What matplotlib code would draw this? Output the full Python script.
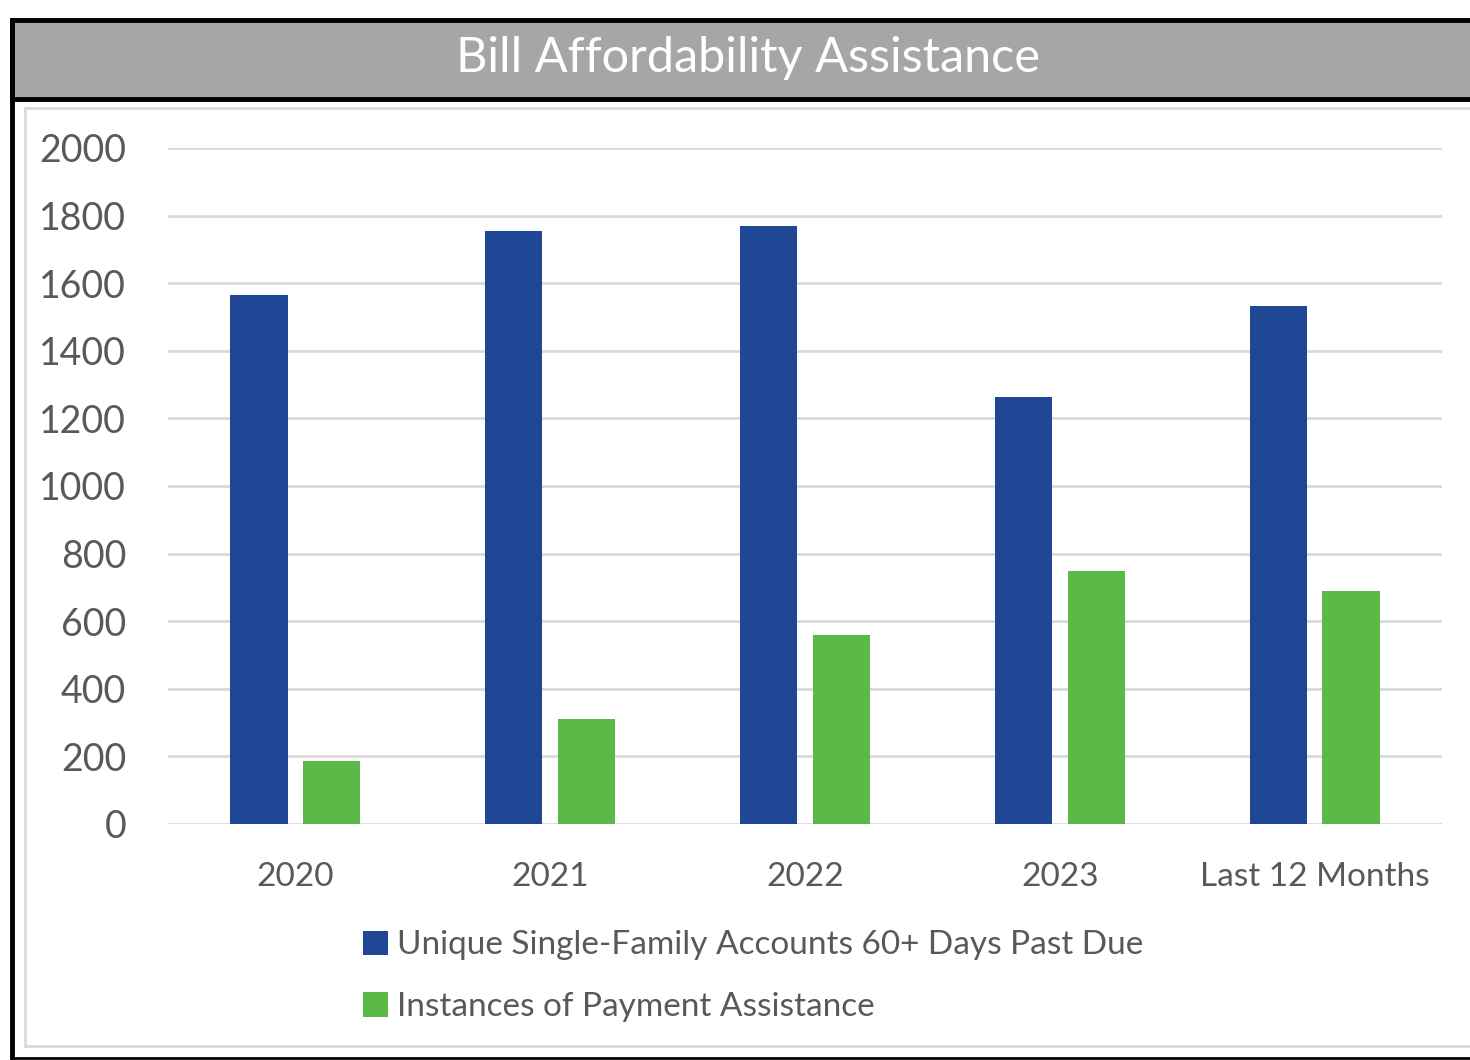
import numpy as np
import matplotlib
matplotlib.use("Agg")
import matplotlib.pyplot as plt
from matplotlib.patches import Rectangle

categories = ["2020", "2021", "2022", "2023", "Last 12 Months"]
past_due = [1565, 1755, 1770, 1262, 1533]
assistance = [187, 311, 560, 748, 688]
series_names = ["Unique Single-Family Accounts 60+ Days Past Due",
                "Instances of Payment Assistance"]
yticks = [0, 200, 400, 600, 800, 1000, 1200, 1400, 1600, 1800, 2000]

BLUE = "#1F4796"
GREEN = "#5BB947"
TEXT = "#595959"

plt.rcParams['font.family'] = ['Lato', 'DejaVu Sans']

W, H = 1470, 1060
fig = plt.figure(figsize=(W / 100, H / 100), dpi=100)

def fx(px):
    return px / W

def fy(py):
    return 1 - py / H

# frame: black outline, gray header, light inner border (open on the right)
fig.patches.append(Rectangle((fx(25), fy(1046)), fx(1490 - 25), (1046 - 108) / H,
                             transform=fig.transFigure, facecolor="white",
                             edgecolor="#d9d9d9", linewidth=2))
fig.patches.append(Rectangle((fx(12), fy(99)), fx(1490 - 12), (99 - 20) / H,
                             transform=fig.transFigure, facecolor="#a6a6a6",
                             edgecolor="black", linewidth=3.5))
fig.add_artist(plt.Line2D([fx(12), fx(12)], [fy(20), fy(1058)], color="black",
                          linewidth=3.5, transform=fig.transFigure))
fig.add_artist(plt.Line2D([fx(12), fx(1470)], [fy(1058), fy(1058)], color="black",
                          linewidth=2, transform=fig.transFigure))

fig.text(fx(748), fy(58), "Bill Affordability Assistance", color="white",
         fontsize=35, ha="center", va="center")

ax = fig.add_axes([fx(168), fy(824), fx(1442 - 168), (824 - 148) / H])
ax.set_zorder(5)
x = np.arange(len(categories))
bw = 0.224
off = 0.143
ax.bar(x - off, past_due, bw, color=BLUE, label=series_names[0], zorder=3)
ax.bar(x + off, assistance, bw, color=GREEN, label=series_names[1], zorder=3)

ax.set_xlim(-0.5, len(categories) - 0.5)
ax.set_ylim(0, 2000)
ax.set_yticks(yticks)
ax.set_xticks(x)
ax.set_xticklabels(categories)
ax.grid(axis="y", color="#d9d9d9", linewidth=2, zorder=0)
for s in ax.spines.values():
    s.set_visible(False)
ax.tick_params(length=0, labelcolor=TEXT)
ax.tick_params(axis="y", pad=30, labelsize=27)
ax.tick_params(axis="x", pad=27, labelsize=24)
ax.set_facecolor("none")

leg = fig.legend(loc="upper left", bbox_to_anchor=(fx(350), fy(917)), ncol=1,
                 frameon=False, fontsize=24, handlelength=0.75, handleheight=0.75,
                 handletextpad=0.25, labelspacing=0.95, borderaxespad=0)
leg.set_zorder(6)
for t in leg.get_texts():
    t.set_color(TEXT)

fig.savefig("out.png", dpi=100)
